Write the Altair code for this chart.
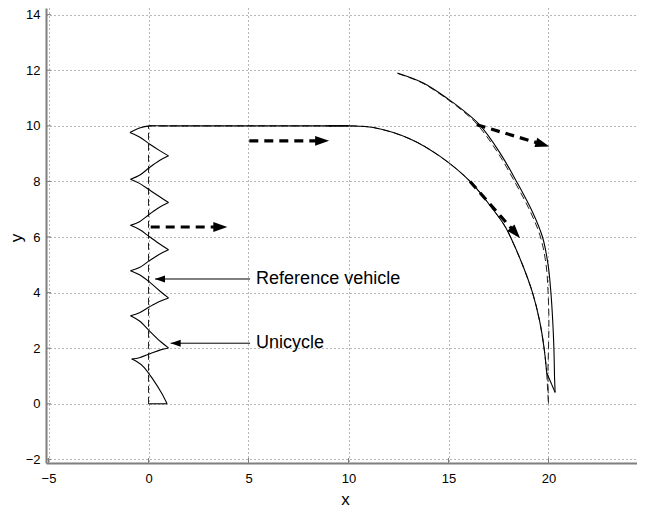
import altair as alt
import pandas as pd
import numpy as np

# ---------------- data ----------------
# Unicycle (solid). Each segment id is one smooth piece (cusps split pieces).
uni_seg = [0, 0,
           1, 1, 1, 1, 1, 1,
           2, 2, 2, 2, 2,
           3, 3, 3, 3, 3,
           4, 4, 4, 4, 4,
           5, 5, 5, 5, 5,
           6, 6, 6, 6, 6,
           7, 7, 7, 7, 7,
           8, 8, 8, 8, 8,
           9, 9, 9, 9, 9,
           10, 10, 10, 10, 10,
           11, 11, 11, 11, 11,
           12, 12, 12, 12, 12,
           13, 13,
           14, 14, 14, 14, 14, 14, 14, 14, 14, 14, 14, 14, 14, 14,
           15, 15,
           16, 16,
           17, 17, 17, 17, 17, 17, 17, 17, 17, 17, 17, 17, 17, 17, 17]
uni_x = [0.0, 0.93,
         0.93, 0.66, 0.24, -0.26, -0.59, -0.84,
         -0.84, -0.45, 0.08, 0.6, 1.0,
         1.0, 0.6, 0.08, -0.45, -0.9,
         -0.9, -0.45, 0.05, 0.55, 1.0,
         1.0, 0.58, 0.07, -0.45, -0.9,
         -0.9, -0.45, 0.05, 0.55, 1.0,
         1.0, 0.58, 0.07, -0.45, -0.9,
         -0.9, -0.45, 0.05, 0.55, 1.0,
         1.0, 0.58, 0.07, -0.45, -0.9,
         -0.9, -0.45, 0.05, 0.55, 1.0,
         1.0, 0.58, 0.07, -0.45, -0.93,
         -0.93, -0.45, 0.07, 0.6, 1.0,
         1.0, 10.0,
         9.0, 10.0, 11.24, 13.08, 14.58, 16.08, 17.24, 17.83, 18.1, 18.7, 19.2, 19.55, 19.78, 19.91,
         19.91, 20.33,
         20.33, 20.30,
         20.30, 20.27, 20.21, 20.12, 19.98, 19.7, 19.2, 18.4, 17.58, 16.55, 15.8, 14.99, 13.74, 12.44, 12.44]
uni_y = [0.0, 0.0,
         0.0, 0.38, 0.86, 1.34, 1.52, 1.61,
         1.61, 1.66, 1.80, 1.94, 2.01,
         2.01, 2.24, 2.60, 2.98, 3.17,
         3.17, 3.28, 3.49, 3.68, 3.81,
         3.81, 4.05, 4.37, 4.64, 4.79,
         4.79, 4.90, 5.15, 5.38, 5.54,
         5.54, 5.74, 6.00, 6.27, 6.42,
         6.42, 6.55, 6.82, 7.07, 7.24,
         7.24, 7.44, 7.68, 7.93, 8.08,
         8.08, 8.22, 8.50, 8.75, 8.92,
         8.92, 9.10, 9.34, 9.60, 9.76,
         9.76, 9.92, 10.0, 10.0, 10.0,
         10.0, 10.0,
         10.0, 10.0, 9.94, 9.53, 8.90, 8.0, 6.98, 6.38, 6.0, 5.0, 4.0, 3.0, 2.0, 1.12,
         1.12, 0.41,
         0.41, 1.0,
         1.0, 2.0, 3.0, 4.0, 5.0, 6.0, 6.9, 8.0, 9.02, 10.04, 10.52, 10.96, 11.54, 11.9, 11.9]

# Reference vehicle (dashed)
ref_seg = [0, 0,
           1, 1,
           2, 2, 2, 2, 2, 2, 2, 2, 2, 2, 2, 2, 2, 2,
           3, 3,
           4, 4, 4, 4, 4, 4, 4, 4, 4, 4, 4, 4, 4, 4, 4]
ref_x = [0.0, 0.0,
         0.0, 10.0,
         9.0, 10.0, 11.24, 13.08, 14.58, 16.08, 17.24, 17.83, 18.1, 18.7, 19.2, 19.55, 19.78, 19.91,
         19.91, 20.0,
         20.0, 19.97, 20.0, 20.02, 19.98, 19.88, 19.6, 19.1, 18.3, 17.48, 16.45, 15.7, 14.9, 13.64, 12.3]
ref_y = [0.0, 10.0,
         10.0, 10.0,
         10.0, 10.0, 9.94, 9.53, 8.90, 8.0, 6.98, 6.38, 6.0, 5.0, 4.0, 3.0, 2.0, 1.12,
         1.12, 0.0,
         0.0, 1.0, 2.0, 3.0, 4.0, 5.0, 6.0, 6.9, 8.0, 9.02, 10.04, 10.54, 10.98, 11.56, 11.92]

# thick dashed direction arrows (start -> tip)
dir_x0 = [0.11, 5.04, 16.41, 16.08]
dir_y0 = [6.36, 9.46, 10.04, 8.0]
dir_x1 = [3.94, 9.03, 20.04, 18.58]
dir_y1 = [6.36, 9.46, 9.26, 5.96]

# annotations
ann_text = ["Reference vehicle", "Unicycle"]
ann_x0 = [5.08, 5.08]
ann_y = [4.49, 2.18]
ann_x1 = [0.325, 1.11]
ann_text_x = [5.38, 5.38]

x_ticks = [-5, 0, 5, 10, 15, 20]
y_ticks = [-2, 0, 2, 4, 6, 8, 10, 12, 14]

# ---------------- layout ----------------
W, H = 591, 455
XD = [-5.125, 24.425]
YD = [-2.13, 14.24]
sx = W / (XD[1] - XD[0])
sy = H / (YD[1] - YD[0])

FONT = "Liberation Sans"

xs = alt.Scale(domain=XD, nice=False, zero=False)
ys = alt.Scale(domain=YD, nice=False, zero=False)

xax = alt.Axis(values=x_ticks, title="x", grid=True, ticks=False,
               labelFontSize=13, labelPadding=9, titleFontSize=17,
               titleFontWeight="normal", titleX=299, titleY=36,
               titleBaseline="middle")
yax = alt.Axis(values=y_ticks, title="y", grid=True, ticks=False,
               labelFontSize=13, labelPadding=6, titleFontSize=17,
               titleFontWeight="normal", titleX=-30, titleY=H / 2 + 2,
               titleBaseline="middle")


def path_layer(seg, xv, yv, **mk):
    df = pd.DataFrame({"seg": seg, "x": xv, "y": yv, "i": list(range(len(xv)))})
    return alt.Chart(df).mark_line(interpolate="catmull-rom", **mk).encode(
        x=alt.X("x:Q", scale=xs, axis=xax),
        y=alt.Y("y:Q", scale=ys, axis=yax),
        detail="seg:N",
        order="i:Q",
    )


ref_layer = path_layer(ref_seg, ref_x, ref_y, color="#222222", strokeWidth=1,
                       strokeDash=[7, 4])
uni_layer = path_layer(uni_seg, uni_x, uni_y, color="#000000", strokeWidth=1.1)

# arrows
dirdf = pd.DataFrame({"x0": dir_x0, "y0": dir_y0, "x1": dir_x1, "y1": dir_y1})
dirdf["ang"] = (np.degrees(np.arctan2((dirdf.x1 - dirdf.x0) * sx,
                                      (dirdf.y1 - dirdf.y0) * sy)) + 360) % 360
L = np.hypot((dirdf.x1 - dirdf.x0) * sx, (dirdf.y1 - dirdf.y0) * sy)
dirdf["xb"] = dirdf.x1 - (dirdf.x1 - dirdf.x0) * 12 / L
dirdf["yb"] = dirdf.y1 - (dirdf.y1 - dirdf.y0) * 12 / L

shafts = alt.Chart(dirdf).mark_rule(color="black", strokeWidth=3.2,
                                    strokeDash=[9, 6]).encode(
    x=alt.X("x0:Q", scale=xs), y=alt.Y("y0:Q", scale=ys),
    x2="xb:Q", y2="yb:Q")
HEAD = "M0,0L0.7,2L-0.7,2Z"
heads = alt.Chart(dirdf).mark_point(shape=HEAD, size=196, filled=True,
                                    color="black", opacity=1, strokeWidth=0).encode(
    x=alt.X("x1:Q", scale=xs), y=alt.Y("y1:Q", scale=ys),
    angle=alt.Angle("ang:Q", scale=None))

anndf = pd.DataFrame({"t": ann_text, "x0": ann_x0, "y": ann_y, "x1": ann_x1,
                      "tx": ann_text_x})
anndf["ang"] = 270
ann_lines = alt.Chart(anndf).mark_rule(color="black", strokeWidth=1).encode(
    x=alt.X("x0:Q", scale=xs), y=alt.Y("y:Q", scale=ys), x2="x1:Q")
ann_heads = alt.Chart(anndf).mark_point(shape=HEAD, size=100, filled=True,
                                        color="black", opacity=1, strokeWidth=0).encode(
    x=alt.X("x1:Q", scale=xs), y=alt.Y("y:Q", scale=ys),
    angle=alt.Angle("ang:Q", scale=None))
ann_text_layer = alt.Chart(anndf).mark_text(align="left", baseline="middle",
                                            font=FONT, fontSize=18, color="black").encode(
    x=alt.X("tx:Q", scale=xs), y=alt.Y("y:Q", scale=ys), text="t:N")

# inward tick marks (MATLAB style)
xtdf = pd.DataFrame({"v": x_ticks})
ytdf = pd.DataFrame({"v": y_ticks})
xtick_layer = alt.Chart(xtdf).mark_rule(color="#7f7f7f", strokeWidth=1).encode(
    x=alt.X("v:Q", scale=xs), y=alt.value(H), y2=alt.value(H - 5))
ytick_layer = alt.Chart(ytdf).mark_rule(color="#7f7f7f", strokeWidth=1).encode(
    y=alt.Y("v:Q", scale=ys), x=alt.value(0), x2=alt.value(5))

chart = alt.layer(
    ref_layer, uni_layer, shafts, heads,
    ann_lines, ann_heads, ann_text_layer, xtick_layer, ytick_layer
).properties(
    width=W, height=H,
    autosize=alt.AutoSizeParams(type="none"),
    padding={"left": 38, "top": 0, "right": 0, "bottom": 46},
    background="white",
).configure_view(
    strokeWidth=0
).configure_axis(
    domainColor="#7f7f7f", domainWidth=2,
    gridColor="#555555", gridDash=[1, 3], gridWidth=1, gridOpacity=0.85,
    labelColor="black", titleColor="black",
    labelFont=FONT, titleFont=FONT,
)

chart.save("out.html", embed_options={"renderer": "svg", "actions": False})
